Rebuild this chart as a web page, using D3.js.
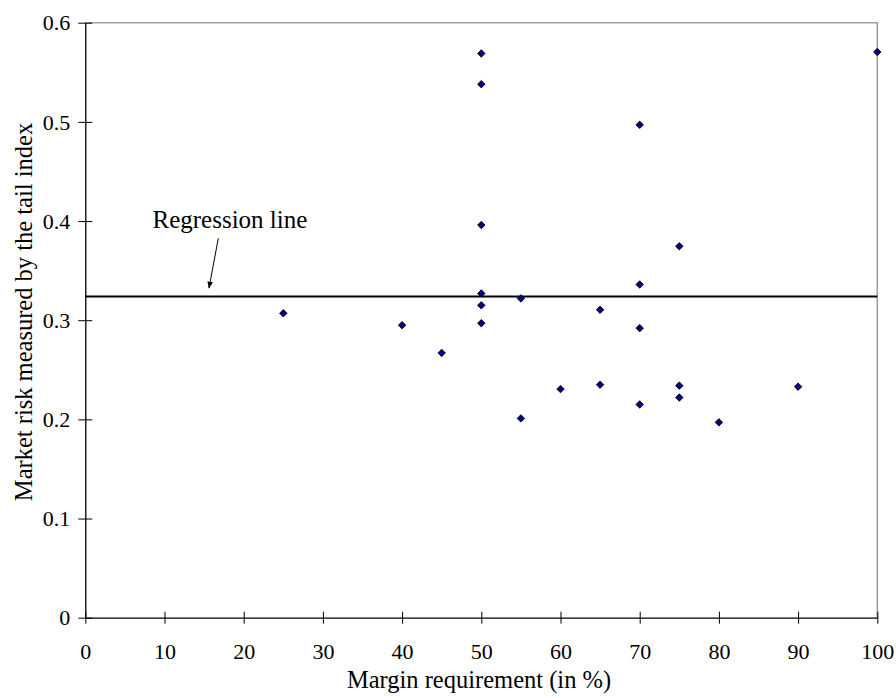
<!DOCTYPE html>
<html><head><meta charset="utf-8">
<script src="https://cdn.jsdelivr.net/npm/d3@7"></script>
<style>body{margin:0;background:#fff}svg{display:block}text{font-family:"Liberation Serif","Times New Roman",serif;fill:#000}</style>
</head><body>
<svg id="c" width="896" height="698"></svg>
<script>
const marginReq = [25,40,45,50,50,50,50,50,50,55,55,60,65,65,70,70,70,70,75,75,75,80,90,100];
const tailIndex = [0.307,0.295,0.267,0.569,0.538,0.396,0.327,0.315,0.297,0.322,0.201,0.2305,0.3105,0.235,0.497,0.336,0.292,0.215,0.3746,0.234,0.222,0.197,0.233,0.5705];
const regressionValue = 0.324;
const xTicks = [0,10,20,30,40,50,60,70,80,90,100];
const yTicks = [0,0.1,0.2,0.3,0.4,0.5,0.6];
const xTitle = "Margin requirement (in %)";
const yTitle = "Market risk measured by the tail index";
const annotation = "Regression line";

const svg = d3.select("#c");
const L=85.3, R=877.3, T=22.7, B=617.7;
const x = d3.scaleLinear().domain([0,100]).range([L,R]);
const y = d3.scaleLinear().domain([0,0.6]).range([B,T]);

// top/right border
svg.append("path").attr("d",`M${L},${T}H${R}V${B}`).attr("fill","none").attr("stroke","#a0a0a0").attr("stroke-width",1.6);

// x axis
const xa = svg.append("g").attr("transform",`translate(0,${B})`)
  .call(d3.axisBottom(x).tickValues(xTicks).tickFormat(d3.format("d")).tickSizeInner(6).tickSizeOuter(0));
xa.select(".domain").attr("stroke","#000").attr("stroke-width",1.3);
xa.selectAll(".tick line").attr("y1",-6).attr("y2",6).attr("stroke","#000").attr("stroke-width",1);
xa.selectAll(".tick text").attr("font-size",22).attr("font-family","Liberation Serif").attr("dy",0).attr("y",41.5);

// y axis
const ya = svg.append("g").attr("transform",`translate(${L},0)`)
  .call(d3.axisLeft(y).tickValues(yTicks).tickFormat(d=>d===0?"0":d3.format(".1f")(d)).tickSizeInner(7).tickSizeOuter(0));
ya.select(".domain").attr("stroke","#000").attr("stroke-width",1.3);
ya.selectAll(".tick line").attr("x1",-7).attr("x2",7).attr("stroke","#000").attr("stroke-width",1);
ya.selectAll(".tick text").attr("font-size",22).attr("font-family","Liberation Serif").attr("x",-15).attr("dy","0.33em");

// regression line
svg.append("line").attr("x1",x(0)).attr("x2",x(100)).attr("y1",y(regressionValue)).attr("y2",y(regressionValue))
  .attr("stroke","#000").attr("stroke-width",2);

// points
const sym = d3.symbol().type(d3.symbolSquare).size(28);
svg.append("g").selectAll("path").data(marginReq.map((m,i)=>[m,tailIndex[i]])).join("path")
  .attr("d",sym).attr("transform",d=>`translate(${x(d[0])},${y(d[1])}) rotate(45)`)
  .attr("fill","#000080").attr("stroke","#000").attr("stroke-width",0.8);

// annotation
svg.append("defs").append("marker").attr("id","ah").attr("viewBox","0 0 10 10").attr("refX",9).attr("refY",5)
  .attr("markerWidth",7).attr("markerHeight",7).attr("orient","auto")
  .append("path").attr("d","M0,1L10,5L0,9Z").attr("fill","#000");
svg.append("text").attr("x",152.5).attr("y",228).attr("font-size",25).text(annotation);
svg.append("line").attr("x1",218.3).attr("y1",238.3).attr("x2",209).attr("y2",288).attr("stroke","#000").attr("stroke-width",1).attr("marker-end","url(#ah)");

// titles
svg.append("text").attr("x",479).attr("y",688).attr("text-anchor","middle").attr("font-size",24.5).text(xTitle);
svg.append("text").attr("transform",`translate(32,312) rotate(-90)`).attr("text-anchor","middle").attr("font-size",24.5).text(yTitle);
</script>
</body></html>
